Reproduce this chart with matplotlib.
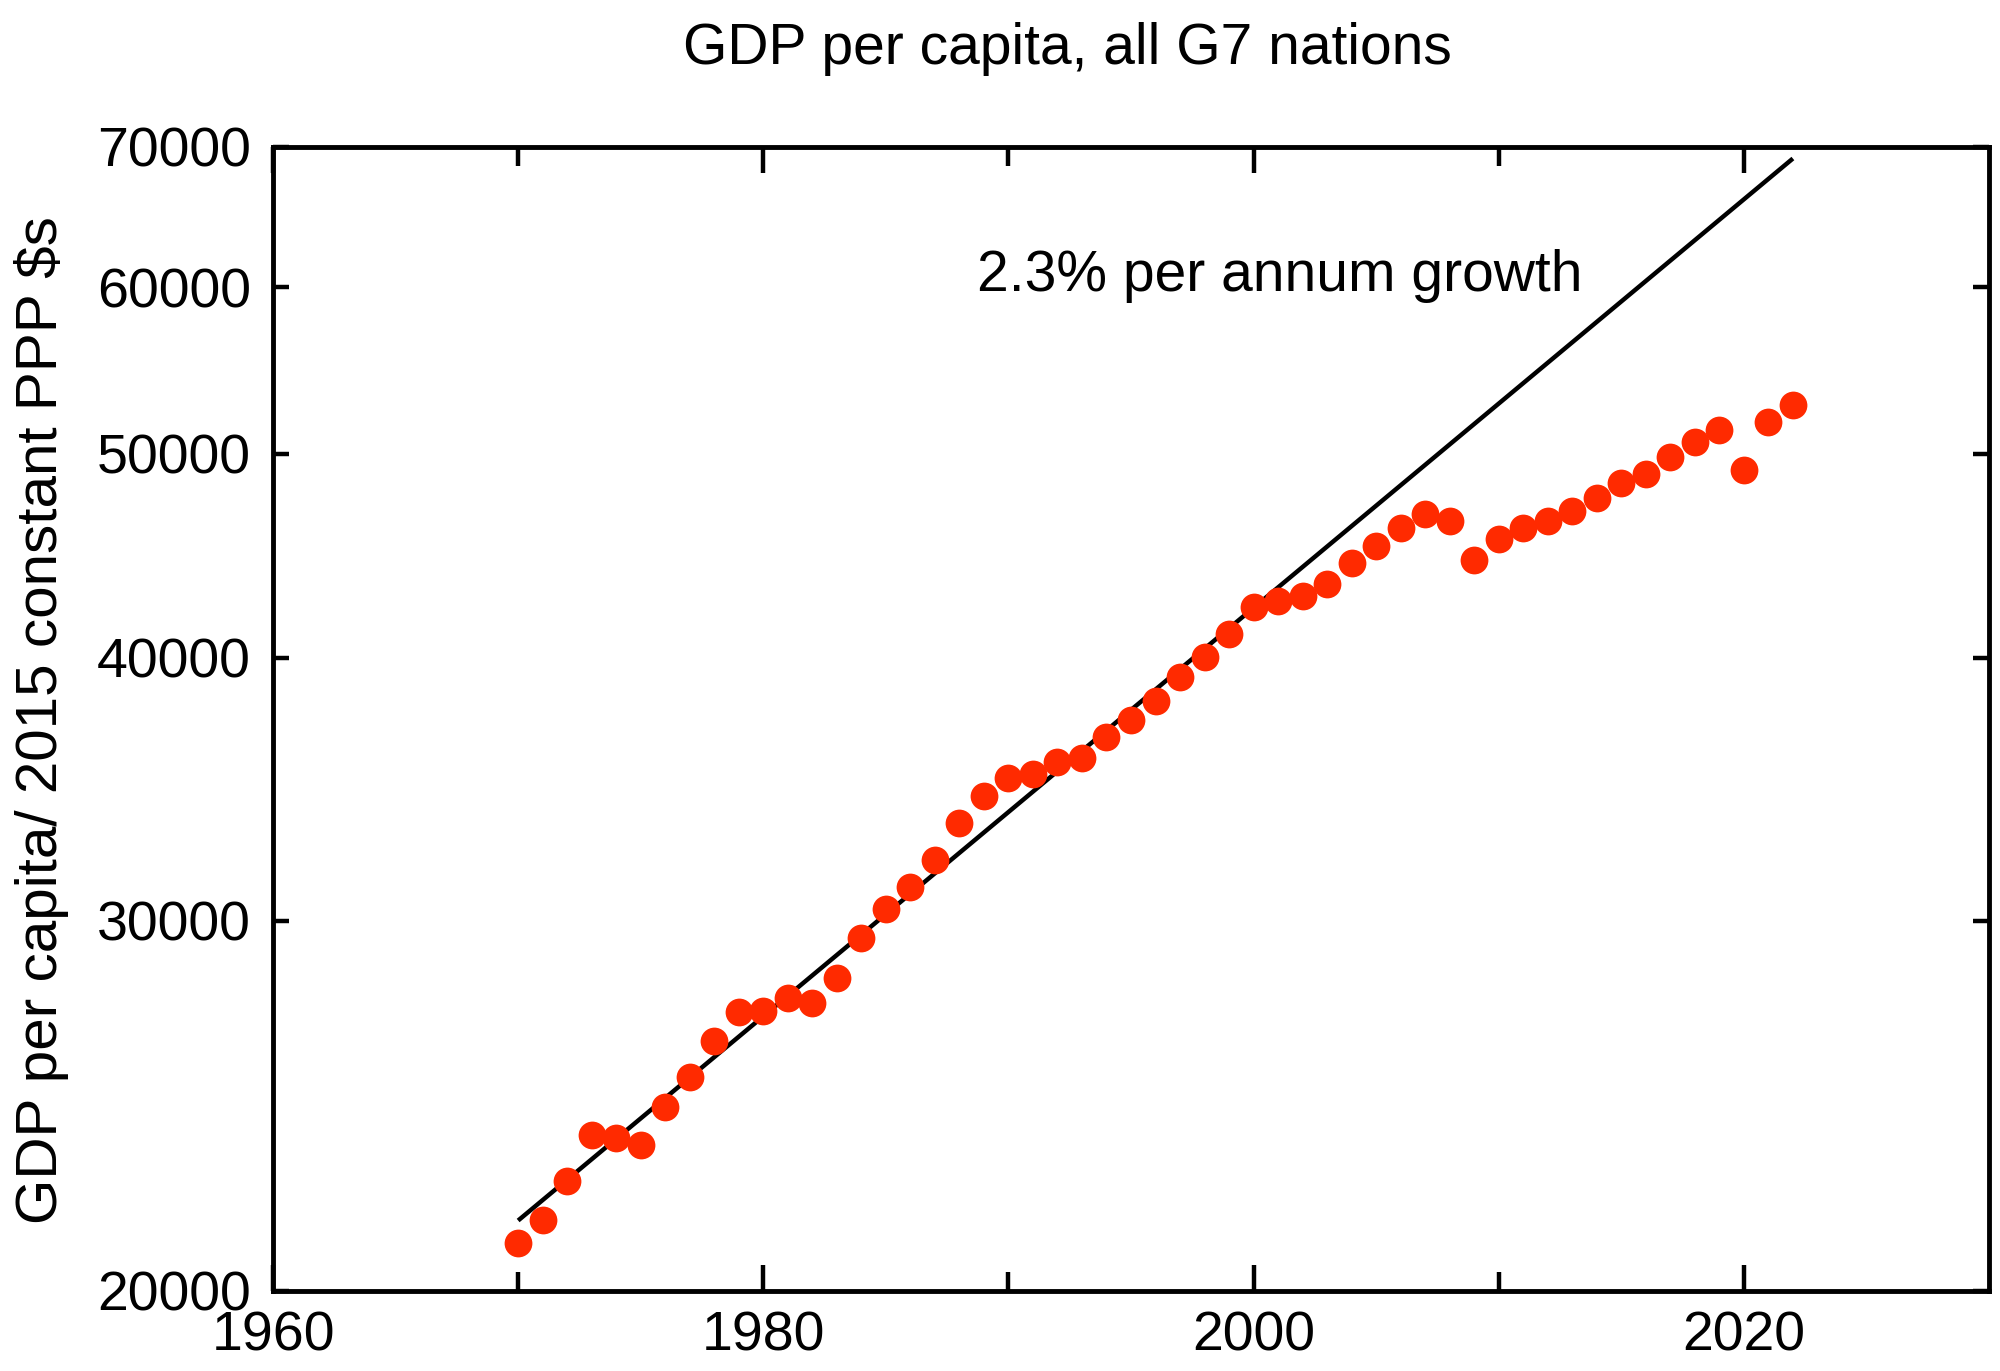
import matplotlib
matplotlib.use("Agg")
import matplotlib.pyplot as plt
from matplotlib.ticker import FixedLocator, NullLocator, FixedFormatter

plt.rcParams['font.family'] = ['Liberation Sans', 'DejaVu Sans']

years = list(range(1970, 2023))
gdp_per_capita = [
    21070, 21610, 22560, 23720, 23630, 23470, 24470, 25270, 26300, 27150,
    27180, 27560, 27400, 28180, 29420, 30370, 31130, 32060, 33370, 34390,
    35080, 35220, 35700, 35830, 36690, 37370, 38160, 39150, 40020, 41040,
    42300, 42580, 42800, 43350, 44360, 45210, 46120, 46800, 46480, 44520,
    45550, 46090, 46480, 46970, 47630, 48420, 48920, 49850, 50680, 51330,
    49130, 51800, 52750,
]

trend_years = [1970, 2022]
trend_values = [21600, 69100]

x_major_ticks = [1960, 1980, 2000, 2020]
x_minor_ticks = [1970, 1990, 2010]
y_ticks = [20000, 30000, 40000, 50000, 60000, 70000]
y_tick_labels = ["20000", "30000", "40000", "50000", "60000", "70000"]

title_text = "GDP per capita, all G7 nations"
ylabel_text = "GDP per capita/ 2015 constant PPP $s"
annotation_text = "2.3% per annum growth"

fig = plt.figure(figsize=(20, 13.71), dpi=100)
ax = fig.add_axes([0.1365, 0.0585, 0.858, 0.8345])

ax.plot(trend_years, trend_values, color='black', lw=3.2, solid_capstyle='butt', zorder=2)
ax.plot(years, gdp_per_capita, 'o', color='#ff2a00', markersize=20,
        markeredgewidth=0, zorder=3)

ax.set_yscale('log')
ax.set_xlim(1960, 2030)
ax.set_ylim(20000, 70000)

ax.xaxis.set_major_locator(FixedLocator(x_major_ticks))
ax.xaxis.set_minor_locator(FixedLocator(x_minor_ticks))
ax.yaxis.set_major_locator(FixedLocator(y_ticks))
ax.yaxis.set_major_formatter(FixedFormatter(y_tick_labels))
ax.yaxis.set_minor_locator(NullLocator())

for s in ax.spines.values():
    s.set_linewidth(3.5)

ax.tick_params(axis='x', which='major', direction='in', length=18.7, width=3.2,
               top=True, bottom=True, labelsize=40, pad=14)
ax.tick_params(axis='x', which='minor', direction='in', length=13.7, width=3.2,
               top=True, bottom=True)
ax.tick_params(axis='y', which='major', direction='in', length=11.5, width=3.2,
               left=True, right=True, labelsize=40, pad=16)

ax.text(1988.7, 59760, annotation_text, fontsize=41, ha='left', va='baseline')

fig.text(0.5335, 0.953, title_text, fontsize=41, ha='center', va='baseline')
fig.text(0.021, 0.475, ylabel_text, fontsize=42, rotation=90, ha='center', va='center')

fig.savefig('out.png', dpi=100)
